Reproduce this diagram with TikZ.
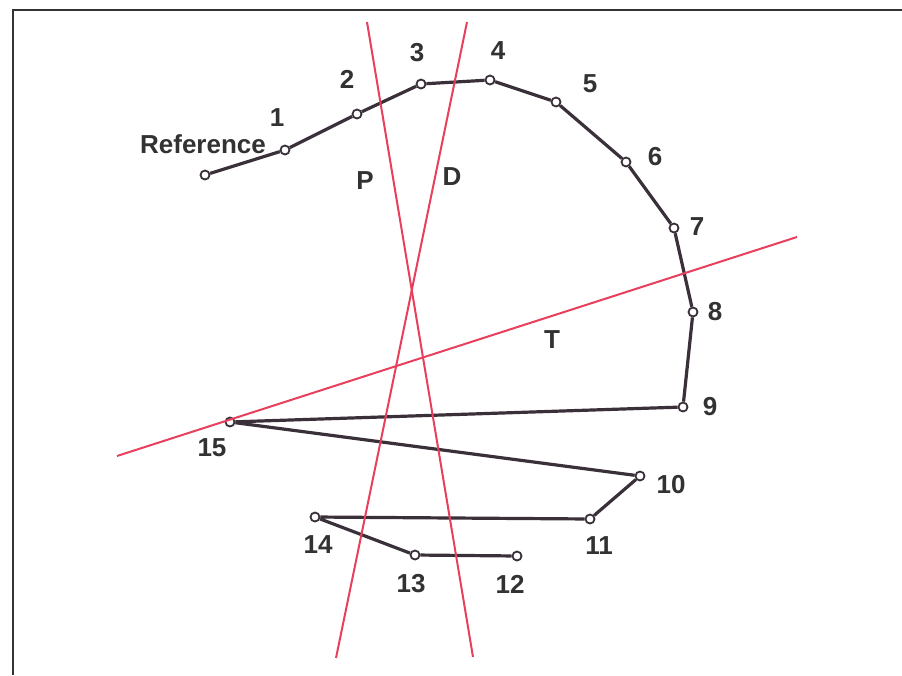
\documentclass[tikz,border=0pt]{standalone}
\usepackage{fontspec}
\setmainfont{Liberation Sans}
\definecolor{ink}{RGB}{58,48,58}
\definecolor{redline}{RGB}{232,64,92}
\definecolor{lbl}{RGB}{50,50,50}
\begin{document}
\begin{tikzpicture}[x=1pt,y=-1pt,
  vtx/.style={circle,draw=ink,fill=white,line width=1.8pt,inner sep=0pt,minimum size=9pt},
  seg/.style={draw=ink,line width=3.2pt},
  cut/.style={draw=redline,line width=2pt},
  lab/.style={font=\bfseries\fontsize{26}{26}\selectfont,text=lbl,inner sep=0pt},
  frame/.style={draw=black!80,line width=1.5pt}]
\useasboundingbox (0,0) rectangle (902,675);
\fill[white] (0,0) rectangle (902,675);
% frame
\coordinate (fa) at (13,675);
\coordinate (fb) at (13,10);
\coordinate (fc) at (902,10);
\draw[frame] (fa) -- (fb) -- (fc);
% vertices
\node[vtx] (v0) at (205,175) {};
\node[vtx] (v1) at (285,150) {};
\node[vtx] (v2) at (357,114) {};
\node[vtx] (v3) at (421,84) {};
\node[vtx] (v4) at (490,80) {};
\node[vtx] (v5) at (556,102) {};
\node[vtx] (v6) at (626,162) {};
\node[vtx] (v7) at (674,228) {};
\node[vtx] (v8) at (693,312) {};
\node[vtx] (v9) at (683,407) {};
\node[vtx] (v10) at (640,476) {};
\node[vtx] (v11) at (590,519) {};
\node[vtx] (v12) at (517,556) {};
\node[vtx] (v13) at (415,555) {};
\node[vtx] (v14) at (315,517) {};
\node[vtx] (v15) at (230,422) {};
% path
\draw[seg] (v0) -- (v1) -- (v2) -- (v3) -- (v4) -- (v5) -- (v6) -- (v7) -- (v8) -- (v9) -- (v15) -- (v10) -- (v11) -- (v14) -- (v13) -- (v12);
% red lines
\coordinate (pa) at (367,22);
\coordinate (pb) at (473,657);
\coordinate (da) at (467,22);
\coordinate (db) at (336,658);
\coordinate (ta) at (117,456);
\coordinate (tb) at (797,237);
\draw[cut] (pa) -- (pb);
\draw[cut] (da) -- (db);
\draw[cut] (ta) -- (tb);
% labels
\node[lab] (lref) at (203,144) {Reference};
\node[lab] (l1) at (277,118) {1};
\node[lab] (l2) at (347,79) {2};
\node[lab] (l3) at (417,53) {3};
\node[lab] (l4) at (498,51) {4};
\node[lab] (l5) at (590,84) {5};
\node[lab] (l6) at (655,157) {6};
\node[lab] (l7) at (697,227) {7};
\node[lab] (l8) at (715,312) {8};
\node[lab] (l9) at (710,407) {9};
\node[lab] (l10) at (671,485) {10};
\node[lab] (l11) at (599,546) {11};
\node[lab] (l12) at (510,584) {12};
\node[lab] (l13) at (411,584) {13};
\node[lab] (l14) at (318,545) {14};
\node[lab] (l15) at (212,448) {15};
\node[lab] (lP) at (365,181) {P};
\node[lab] (lD) at (452,177) {D};
\node[lab] (lT) at (552,340) {T};
\end{tikzpicture}
\end{document}
